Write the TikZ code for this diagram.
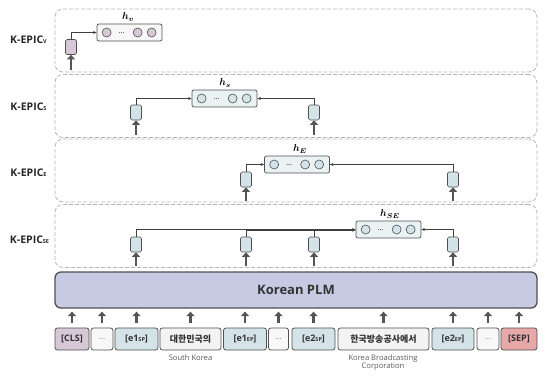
\documentclass[tikz,border=0pt]{standalone}
\usepackage{fontspec}
\usepackage{bm}
\setmainfont{Open Sans}
\newfontfamily\krfont{Noto Sans CJK KR}
\usetikzlibrary{arrows.meta}
\definecolor{dgray}{HTML}{505050}
\definecolor{pgray}{HTML}{B5B5B5}
\definecolor{cblue}{HTML}{D3E3E8}
\definecolor{cpurp}{HTML}{D6C8D6}
\definecolor{boxb}{HTML}{EAF2F4}
\definecolor{plmc}{HTML}{C6CBE3}
\definecolor{sepc}{HTML}{E8A8A8}
\definecolor{wordc}{HTML}{F3F3F3}
\definecolor{arrc}{HTML}{555555}
\newcommand{\subsc}[1]{\raisebox{-0.3pt}{\fontsize{5.5}{6}\selectfont #1}}
\begin{document}
\begin{tikzpicture}[x=1pt,y=-1pt,
  panel/.style={draw=pgray,line width=0.8pt,dash pattern=on 4pt off 2pt,rounded corners=8pt,minimum width=482pt,minimum height=63pt,inner sep=0pt},
  plabel/.style={font=\bfseries\fontsize{10.5}{12}\selectfont,text=black!85},
  blk/.style={draw=dgray,line width=0.7pt,fill=cblue,rounded corners=1.5pt,minimum width=11pt,minimum height=15pt,inner sep=0pt},
  hbox/.style={draw=dgray,line width=0.7pt,fill=boxb,rounded corners=2pt,minimum width=65pt,minimum height=17pt,inner sep=0pt},
  cir/.style={circle,draw=dgray,line width=0.6pt,fill=cblue,minimum size=9pt,inner sep=0pt},
  hlab/.style={font=\fontsize{10}{11}\selectfont},
  conn/.style={draw=black!75,line width=0.6pt,-{Stealth[length=3.5pt,width=3pt]}},
  connp/.style={draw=black!75,line width=0.6pt},
  uparr/.style={draw=arrc,line width=2.6pt,-{Triangle[length=4.5pt,width=8pt]}},
  tok/.style={draw=dgray,line width=0.8pt,rounded corners=2.5pt,minimum height=22pt,inner sep=0pt,font=\bfseries\fontsize{9}{10}\selectfont,text=black!80},
  small/.style={font=\fontsize{7.6}{8.8}\selectfont,text=black!65,align=center}]
\useasboundingbox (0,0) rectangle (550,378);

% panels
\node[panel] (pV) at (296,40.5) {};
\node[panel] (pS) at (296,106) {};
\node[panel] (pE) at (296,170.5) {};
\node[panel] (pSE) at (296,236) {};

\node[plabel] (lV) at (28.5,40) {K-EPIC\subsc{V}};
\node[plabel] (lS) at (28.5,107) {K-EPIC\subsc{S}};
\node[plabel] (lE) at (28.5,173) {K-EPIC\subsc{E}};
\node[plabel] (lSE) at (29.5,240) {K-EPIC\subsc{SE}};

% panel V
\node[blk,fill=cpurp] (bV) at (71,47) {};
\node[hbox,fill=wordc!70!white] (hV) at (129.5,32.5) {};
\node[hlab] (tV) at (128,17) {$\bm{h}_{\bm{v}}$};
\path (hV.west) ++(10,0) node[cir,fill=cpurp] (cV1) {} ++(15,1) node[font=\fontsize{7}{8}\selectfont] (dV) {...} ++(16,-1) node[cir,fill=cpurp] (cV2) {} ++(14,0) node[cir,fill=cpurp] (cV3) {};
\draw[conn] (bV.north) |- (hV.west);
\coordinate (aV) at (71,70);
\draw[uparr] (aV) -- (bV.south);

% panel S
\node[blk] (bS1) at (136,112.5) {};
\node[blk] (bS2) at (314,112.5) {};
\node[hbox] (hS) at (224.5,98.5) {};
\node[hlab] (tS) at (225,83) {$\bm{h}_{\bm{s}}$};
\path (hS.west) ++(10,0) node[cir] (cS1) {} ++(15,1) node[font=\fontsize{7}{8}\selectfont] (dS) {...} ++(16,-1) node[cir] (cS2) {} ++(14,0) node[cir] (cS3) {};
\draw[conn] (bS1.north) |- (hS.west);
\draw[conn] (bS2.north) |- (hS.east);
\coordinate (aS1) at (136,135);
\coordinate (aS2) at (314,135);
\draw[uparr] (aS1) -- (bS1.south);
\draw[uparr] (aS2) -- (bS2.south);

% panel E
\node[blk] (bE1) at (246,179.5) {};
\node[blk] (bE2) at (453,179.5) {};
\node[hbox] (hE) at (297,164.5) {};
\node[hlab] (tE) at (300,149) {$\bm{h}_{\bm{E}}$};
\path (hE.west) ++(10,0) node[cir] (cE1) {} ++(15,1) node[font=\fontsize{7}{8}\selectfont] (dE) {...} ++(16,-1) node[cir] (cE2) {} ++(14,0) node[cir] (cE3) {};
\draw[conn] (bE1.north) |- (hE.west);
\draw[conn] (bE2.north) |- (hE.east);
\coordinate (aE1) at (246,201);
\coordinate (aE2) at (453,201);
\draw[uparr] (aE1) -- (bE1.south);
\draw[uparr] (aE2) -- (bE2.south);

% panel SE
\node[blk] (bSE1) at (136,244.5) {};
\node[blk] (bSE2) at (246,244.5) {};
\node[blk] (bSE3) at (314,244.5) {};
\node[blk] (bSE4) at (453,244.5) {};
\node[hbox] (hSE) at (388.5,229.5) {};
\node[hlab] (tSE) at (390,214) {$\bm{h}_{\bm{SE}}$};
\path (hSE.west) ++(10,0) node[cir] (cSE1) {} ++(15,1) node[font=\fontsize{7}{8}\selectfont] (dSE) {...} ++(16,-1) node[cir] (cSE2) {} ++(14,0) node[cir] (cSE3) {};
\draw[conn] (bSE1.north) |- (hSE.west);
\draw[conn] ([xshift=0pt]bSE2.north) |- ([yshift=-0.7pt]hSE.west);
\draw[connp] (bSE3.north) -- (bSE3.north |- hSE.west);
\draw[conn] (bSE4.north) |- (hSE.east);
\coordinate (aSE1) at (136,266);
\coordinate (aSE2) at (246,266);
\coordinate (aSE3) at (314,266);
\coordinate (aSE4) at (453,266);
\draw[uparr] (aSE1) -- (bSE1.south);
\draw[uparr] (aSE2) -- (bSE2.south);
\draw[uparr] (aSE3) -- (bSE3.south);
\draw[uparr] (aSE4) -- (bSE4.south);

% PLM
\node[draw=dgray,line width=1.3pt,fill=plmc,rounded corners=6pt,minimum width=482pt,minimum height=36pt,inner sep=0pt,font=\bfseries\fontsize{13}{14}\selectfont,text=black!80] (plm) at (296,290) {Korean PLM};

% tokens
\node[tok,fill=cpurp,minimum width=34pt] (t1) at (72,339) {[CLS]};
\node[tok,fill=wordc!60!white,minimum width=22pt,text=black!50,font=\fontsize{8}{9}\selectfont] (t2) at (102,339) {...};
\node[tok,fill=cblue,minimum width=43pt] (t3) at (136.5,339) {[e1\subsc{SP}]};
\node[tok,fill=wordc,minimum width=61pt,font=\krfont\bfseries\fontsize{9}{10}\selectfont] (t4) at (190.5,339) {대한민국의};
\node[tok,fill=cblue,minimum width=43pt] (t5) at (245,339) {[e1\subsc{EP}]};
\node[tok,fill=wordc!60!white,minimum width=20pt,text=black!50,font=\fontsize{8}{9}\selectfont] (t6) at (278.5,339) {...};
\node[tok,fill=cblue,minimum width=43pt] (t7) at (313.5,339) {[e2\subsc{SP}]};
\node[tok,fill=wordc,minimum width=91pt,font=\krfont\bfseries\fontsize{9}{10}\selectfont] (t8) at (383.5,339) {한국방송공사에서};
\node[tok,fill=cblue,minimum width=42pt] (t9) at (453,339) {[e2\subsc{EP}]};
\node[tok,fill=wordc!60!white,minimum width=22pt,text=black!50,font=\fontsize{8}{9}\selectfont] (t10) at (488,339) {...};
\node[tok,fill=sepc,minimum width=36pt] (t11) at (519,339) {[SEP]};

\foreach \t in {t1,t2,t3,t4,t5,t6,t7,t8,t9,t10,t11}{
  \draw[uparr,shorten <=4.5pt,shorten >=3pt] (\t.north) -- (\t.north |- plm.south);
}

\node[small] (sk) at (190.5,358) {South Korea};
\node[small] (kbc) at (383,362.5) {Korea Broadcasting\\Corporation};
\end{tikzpicture}
\end{document}
